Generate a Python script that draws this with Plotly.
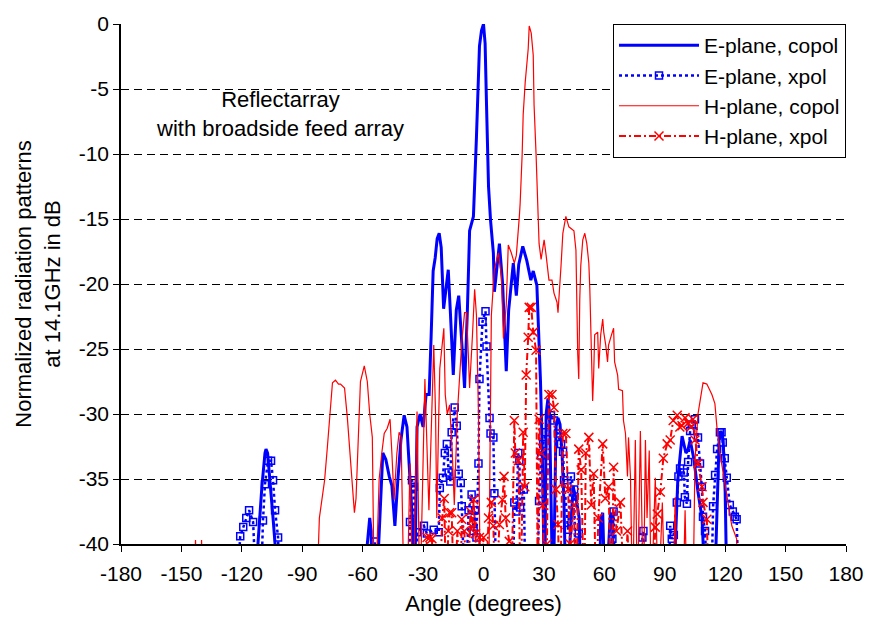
import plotly.graph_objects as go

# ---- measured patterns (angle in degrees, level in dB); -45 marks nulls below the axis floor ----
e_co_angle = [-116, -113, -112, -110, -108.5, -108, -107.2, -106, -104.5, -103.5, -103, -101,
              -60, -58.5, -57.7, -56.5, -55.8, -55.2, -53.5, -51.5, -50, -48.5, -46.8, -45.5, -44,
              -42.5, -41, -39.4, -38, -36.5, -35, -34.3, -33.5, -33, -31.5, -30, -28.5, -27, -26,
              -25, -24, -23, -22, -21, -19.8, -18.5, -17.5, -16.5, -15, -13.5, -12.3, -11, -9.4,
              -8, -6.9, -5, -4.2, -3.5, -2, -1, 0, 0.8, 1.5, 2.5, 3.5, 4.3, 4.9, 5.4, 6.5, 7.9,
              9.5, 11.3, 12.5, 14.8, 16.3, 17.5, 19.5, 21.5, 23.5, 24.7, 26.5, 27.5, 28.3, 29.2,
              29.8, 30.4, 31.1, 32, 32.8, 33.6, 34.5, 35.3, 36, 37, 38, 39, 40, 41, 43, 44.5, 46,
              47.5, 48.5, 57.5, 58.2, 59.2, 60.5, 62, 63, 64, 65,
              94, 95.2, 96.5, 98.6, 100.5, 101.5, 102.6, 104.5, 106.5, 108.5, 110.5,
              114.5, 116, 117, 118, 119, 120, 121, 123]
e_co_db = [-45, -45, -40, -35.5, -33, -32.7, -33, -35, -38, -40, -45, -45,
           -45, -45, -40, -38, -39, -45, -45, -38, -33, -33.5, -34.8, -35.5, -38.6,
           -35, -32, -30.1, -31, -35, -39, -45, -36, -31, -30, -31, -28.5, -28.5, -24,
           -19, -18, -16.5, -16.1, -17.2, -21.9, -20, -18.9, -22, -27, -22, -20.9, -24, -28,
           -22, -15.9, -14.8, -12, -8.7, -1.7, -0.5, 0, -1.5, -6.2, -12.5, -15.1, -16.3, -17.6, -20.6, -19, -16.9,
           -20, -26.7, -22, -18.4, -20.9, -18.5, -17.1, -18.2, -19.7, -19, -20.1, -24, -27.5, -33,
           -45, -45, -30, -28.8, -30, -38, -45, -38, -31, -30.3, -30.8, -33, -37, -45, -40, -35.6, -36.5,
           -38, -45, -45, -38, -37.6, -45, -40, -37.6, -38, -45,
           -45, -40, -35, -31.7, -33, -32.8, -32, -33.5, -36, -38, -45,
           -45, -36, -32, -31.3, -32, -36, -45, -45]

e_x_angle = [-124, -123, -120.8, -119.3, -117.8, -116.4, -114.4, -112.5, -110.8, -109.5, -108.5,
             -107, -105.5, -104.5, -103.5, -102, -101,
             -56, -54, -52.5,
             -38, -36.5, -35.5, -34.5, -33.8, -33, -29.6, -28.1, -24.7, -22.2, -21.7, -20.2,
             -19.2, -18.2, -17.3, -16.5, -15.8, -14.3, -13.3, -12.3, -11.3, -10.8, -9, -7.4,
             -5.9, -4.9, -4.2, -3.5, -2.5, -2, -0.5, 1, 1.5, 3, 3.5, 4.9, 5.4, 6.5,
             14.5, 15.3, 16.3, 17.3, 17.8, 18.2, 20, 21,
             26.5, 27.6, 28.6, 29.6, 31, 33.5, 35, 37, 38.5, 39.5, 40, 42, 43.4, 45, 46, 47.3, 48.5,
             63.5, 64, 64.6, 65.5, 78.5, 78.9, 79.4, 80.5,
             91.5, 92.7, 93.5, 94.5, 96, 96.8, 97.6, 99.5, 100, 101, 101.6, 102.6, 103.4, 105,
             106.5, 107.5, 108.4, 109, 110, 111.5, 113, 114, 115, 116, 117.4, 118.2, 118.8,
             119.8, 120.8, 122.3, 123.8, 124.8, 125.7, 127]
e_x_db = [-45, -45, -39.4, -38.7, -38, -37.4, -38.3, -45, -45, -38.2, -35.4,
          -33.6, -33.6, -35.1, -37.4, -39.5, -45,
          -45, -39.8, -45,
          -45, -38.3, -35.1, -35.6, -45, -39.1, -38.6, -39.2, -38.9, -39.1, -35.7, -34.9,
          -33, -32.3, -34.5, -35.2, -31.4, -29.5, -30.9, -34.6, -35.3, -37.1, -45, -37.4,
          -36.2, -39, -37.4, -39.5, -33.8, -27.3, -22.9, -22.1, -24.8, -30.3, -31.5, -31.8, -36.1, -45,
          -45, -36.8, -37.5, -33, -33.6, -37.2, -35.8, -45,
          -45, -36.7, -33.2, -32.3, -31.4, -30.1, -30.5, -31.5, -32.3, -32.9, -35.1, -38.9, -34.8, -35.8, -45, -39.2, -45,
          -45, -39.6, -37.5, -45, -45, -39.5, -39, -45,
          -45, -38.6, -39.6, -39.3, -36.8, -34.8, -34.2, -34.5, -36.4, -36.9, -33.7, -31.3, -30.8, -30.4,
          -31.8, -33.8, -35.6, -37.9, -39, -45, -45, -37.1, -34.7, -32.7, -31.4, -31.4, -32.2,
          -33.4, -34.9, -37, -37.5, -37.9, -38.1, -45]

h_co_angle = [-150, -144, -143, -142, -140.7, -140, -139.3, -84, -83, -81.5, -80, -78.9, -77.5, -76.4, -75, -73.5, -72, -71, -69, -67.6,
              -66.1, -64.8, -64.1, -63.3, -62.6, -61.1, -59.2, -57.7, -56.5, -55.2, -54.2, -53,
              -52.8, -51.8, -50.5, -49.3, -47.8, -46.4, -45.5, -44.4, -43, -41.9, -40.9, -39.4,
              -38, -36.5, -35, -33, -31.6, -29.1, -27.1, -25.6, -24.7, -23.8, -23.2, -22.2, -21.7,
              -19.7, -19, -18, -16.8, -15.5, -14.5, -13, -11.5, -10.8, -9.4, -8.4, -7.4, -6.9,
              -5.5, -4.4, -3.5, -2.5, -1.5, 2.5, 3.9, 5.4, 7.4, 8.9, 9.9, 11.3, 12.3, 13.8, 15.3,
              16.3, 17.8, 18.2, 19.2, 19.7, 20.7, 22.2, 22.7, 23.7, 24.7, 25.1, 26.1, 27.1, 27.6,
              28.6, 30.1, 31.1, 32.5, 34, 35, 36.5, 37, 38.5, 39.4, 40.9, 42.4, 44.9, 45.9, 46.8,
              47.3, 47.8, 48.3, 49.3, 50.3, 51.3, 52.3, 52.8, 53.3, 54.2, 54.7, 55.2, 56.7, 57.2,
              58.2, 59.2, 59.7, 60.7, 61.6, 62.1, 63.6, 64.6, 65.1, 66.6, 67.1, 69, 69.5, 70.5,
              71.5, 72, 73, 74, 75.4, 76.4, 77.9, 79.4, 80.4, 81.2, 82.3, 83.3, 85.3, 86.8, 88.8,
              90.2, 94, 95.2, 96.2, 99, 100.1, 101.1, 104, 105, 106.5, 108.5, 109, 110.9, 113.4,
              114.9, 115.9, 117.4, 118.8, 120.8, 122.3, 123.3, 125.7, 126.5, 130]
h_co_db = [-45, -45, -39.7, -45, -45, -39.7, -45, -45, -45, -38, -36.5, -35.1, -32.5, -30, -27.6, -27.4, -27.7, -27.7, -28, -30.3,
           -33.6, -36, -37.6, -36.5, -33.8, -27.5, -26.3, -27.5, -30, -31.8, -45, -45,
           -40, -35, -33, -31.5, -31.1, -30.4, -33, -36.6, -33, -31.4, -31.8, -45,
           -45, -33.8, -45, -29.8, -45, -27.3, -37.4, -28.2, -24.7, -30, -38, -30, -26.5,
           -23.4, -28.5, -30, -29.3, -33, -37, -30, -26.5, -24.5, -22.2, -22.2, -26, -28,
           -24, -20.4, -22.4, -30, -45, -45, -22.4, -18.9, -17.6, -19.4, -24.2, -21.6, -17, -17.6, -18.4,
           -17.8, -14.8, -13.8, -10, -7, -4.5, -1.9, -0.15, -0.7, -2.4, -6.2, -10, -13.8, -16.9,
           -18.1, -16.6, -17.8, -19.7, -19.7, -20.7, -21.4, -22.2, -18.6, -16.1, -14.8, -15.6, -15.9, -17.4, -25.4,
           -27.3, -21.2, -18.6, -16.6, -16.1, -16.9, -18.4, -20.4, -22.9, -29, -27, -23.9, -23.7, -26.5,
           -23.9, -22.7, -23.7, -24.7, -26, -24.7, -23.9, -23.4, -26, -27, -28.1, -28.2, -30.5, -31.5,
           -34.8, -31.8, -34.9, -45, -32, -45, -31.3, -45, -32, -38, -32.8, -45, -34.9, -45, -36.8,
           -45, -45, -36.4, -45, -45, -37.4, -45, -45, -33.6, -30, -28, -27.6, -27.7, -28.5,
           -29.2, -31, -33, -34.3, -36, -37.4, -38.6, -39.6, -45, -45]

h_x_angle = [-30, -28, -26.6, -25.6, -24.5, -22, -20.5, -19.5, -18.5, -17.5, -16.8, -15.8, -14.5,
             -13, -11.5, -10.8, -9.5, -8, -6.5, -5.5, -4.9, -4, -3, -2, -1, 0, 1, 2.5, 3.9, 4.9,
             6, 7.9, 9.4, 10.2, 11, 12.8, 13.8, 15.3, 15.8, 17.3, 18.5, 19.7, 20.5, 21.2, 22.2,
             22.7, 23.7, 24.7, 26.1, 27, 27.6, 28.6, 29.5, 30.5, 31.5, 32.5, 34, 35, 36, 37, 38,
             39.4, 40.9, 42, 43, 44.9, 46, 47.3, 48.5, 50, 50.8, 52.3, 53.5, 54.7, 56, 57, 59.2,
             60.5, 62.1, 63.5, 64.6, 66, 68, 70, 71.5, 73,
             84, 85.3, 86.3, 87.8, 89.3, 91.2, 92.7, 94.2, 96.2, 97.5, 98.6, 100.1, 101.6, 103,
             104, 105, 106.5, 108.5, 109, 110.9, 112]
h_x_db = [-45, -39.5, -39.5, -39.6, -45, -45, -38, -36.5, -45, -39, -37.6, -37.6, -45,
          -39, -45, -38.1, -39, -45, -37.5, -38.7, -36.6, -39.2, -45, -39.5, -45, -39.5, -45, -38, -36.8, -38.6,
          -45, -38.5, -36.6, -34.8, -38, -39.8, -45, -30.5, -33, -33.6, -45, -31.4, -35.6, -27, -24.1,
          -21.8, -21.8, -23.7, -25.1, -45, -30.4, -33, -37, -45, -40, -28.5, -28.5, -29.5, -35.8, -38.5, -45,
          -31.5, -31.5, -35.8, -40, -37, -45, -32.7, -34.3, -45, -33, -31.8, -37, -34.6, -45, -38, -32.3,
          -36.5, -35.6, -45, -34.1, -39, -36.8, -45, -39, -45,
          -45, -38.7, -37.7, -36, -33.4, -32.3, -32, -30.5, -30.1, -31, -30.9, -30.3, -30.7, -31,
          -30.4, -32, -33.8, -35.6, -36.8, -38.1, -45]

x_ticks = list(range(-180, 181, 30))
y_ticks = list(range(-40, 1, 5))

FONT = "Liberation Sans, Arial, sans-serif"
BLUE = "#0000FF"
RED = "#FF0000"

fig = go.Figure()
fig.add_trace(go.Scatter(x=e_co_angle, y=e_co_db, mode="lines", name="E-plane, copol",
                         line=dict(color=BLUE, width=3)))
fig.add_trace(go.Scatter(x=e_x_angle, y=e_x_db, mode="lines+markers", name="E-plane, xpol",
                         line=dict(color=BLUE, width=2.5, dash="dot"),
                         marker=dict(symbol="square-open", size=7, color=BLUE,
                                     line=dict(color=BLUE, width=1.5))))
fig.add_trace(go.Scatter(x=h_co_angle, y=h_co_db, mode="lines", name="H-plane, copol",
                         line=dict(color=RED, width=1.2)))
fig.add_trace(go.Scatter(x=h_x_angle, y=h_x_db, mode="lines+markers", name="H-plane, xpol",
                         line=dict(color=RED, width=2, dash="7px,3px,2px,3px"),
                         marker=dict(symbol="x-thin", size=9, color=RED,
                                     line=dict(color=RED, width=1.5))))

fig.add_annotation(x=-101, y=-6.95, xref="x", yref="y",
                   text="Reflectarray<br>with broadside feed array",
                   showarrow=False, font=dict(family=FONT, size=22, color="black"))

fig.update_layout(
    width=876, height=624,
    margin=dict(l=121, r=24, t=18, b=79),
    paper_bgcolor="white", plot_bgcolor="white",
    font=dict(family=FONT, size=22, color="black"),
    showlegend=True,
    legend=dict(x=1.0, xanchor="right", y=1.0, yanchor="top",
                bgcolor="white", bordercolor="black", borderwidth=1,
                font=dict(family=FONT, size=21), itemwidth=80,
                tracegroupgap=0),
    xaxis=dict(range=[-180, 180], tickvals=x_ticks, ticktext=[str(v) for v in x_ticks],
               showgrid=False, zeroline=False, showline=True, linecolor="black", linewidth=1.5,
               ticks="outside", ticklen=6, tickcolor="black", tickwidth=1,
               tickfont=dict(size=21), ticklabelstandoff=4,
               title=dict(text="Angle (degrees)", font=dict(size=22), standoff=12)),
    yaxis=dict(range=[-40, 0], tickvals=y_ticks, ticktext=[str(v) for v in y_ticks],
               showgrid=True, gridcolor="black", gridwidth=1, griddash="8px,5px",
               zeroline=False, showline=True, linecolor="black", linewidth=1.5,
               ticks="outside", ticklen=6, tickcolor="black", tickwidth=1,
               tickfont=dict(size=21),
               title=dict(text="Normalized radiation patterns<br>at 14.1GHz in dB",
                          font=dict(size=22), standoff=12)),
)

fig.write_html("out.html")
